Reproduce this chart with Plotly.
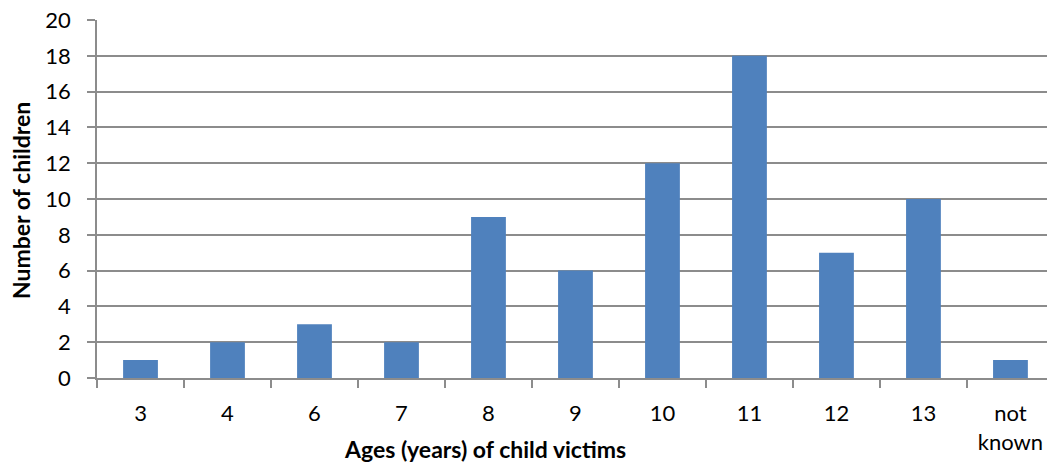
import plotly.graph_objects as go

# Ages of child victims and counts
ages = ["3", "4", "6", "7", "8", "9", "10", "11", "12", "13", "not<br>known"]
children = [1, 2, 3, 2, 9, 6, 12, 18, 7, 10, 1]
y_ticks = list(range(0, 21, 2))

FONT = "Lato, 'Open Sans', sans-serif"
GRID = "#8c8c8c"

fig = go.Figure(
    go.Bar(
        x=ages,
        y=children,
        marker=dict(color="#4f81bd", line=dict(width=0)),
        width=0.4,
    )
)

fig.update_layout(
    width=1047,
    height=463,
    margin=dict(l=97, r=0, t=20, b=85),
    paper_bgcolor="white",
    plot_bgcolor="white",
    showlegend=False,
    font=dict(family=FONT, size=22, color="black"),
)

fig.update_xaxes(
    type="category",
    range=[-0.5, 10.42],
    showgrid=False,
    showline=True,
    linecolor=GRID,
    linewidth=1.5,
    ticks="outside",
    tickson="boundaries",
    ticklen=8,
    tickwidth=1.5,
    tickcolor=GRID,
    tickfont=dict(family=FONT, size=22),
    ticklabelstandoff=15,
)

fig.update_yaxes(
    range=[0, 20],
    tickvals=y_ticks,
    showgrid=True,
    gridcolor=GRID,
    gridwidth=1.5,
    showline=True,
    linecolor=GRID,
    linewidth=1.5,
    ticks="outside",
    ticklen=8,
    tickwidth=1.5,
    tickcolor=GRID,
    tickfont=dict(family=FONT, size=22),
    ticklabelstandoff=12,
    zeroline=False,
)

fig.add_annotation(
    text="<b>Ages (years) of child victims</b>",
    xref="paper", yref="paper",
    x=(485 - 97) / 950, y=-(449 - 378) / 358,
    xanchor="center", yanchor="middle",
    showarrow=False,
    font=dict(family=FONT, size=23),
)
fig.add_annotation(
    text="<b>Number of children</b>",
    xref="paper", yref="paper",
    x=-(97 - 21) / 950, y=(378 - 201) / 358,
    xanchor="center", yanchor="middle",
    textangle=-90,
    showarrow=False,
    font=dict(family=FONT, size=23),
)

fig.write_html("out.html")
